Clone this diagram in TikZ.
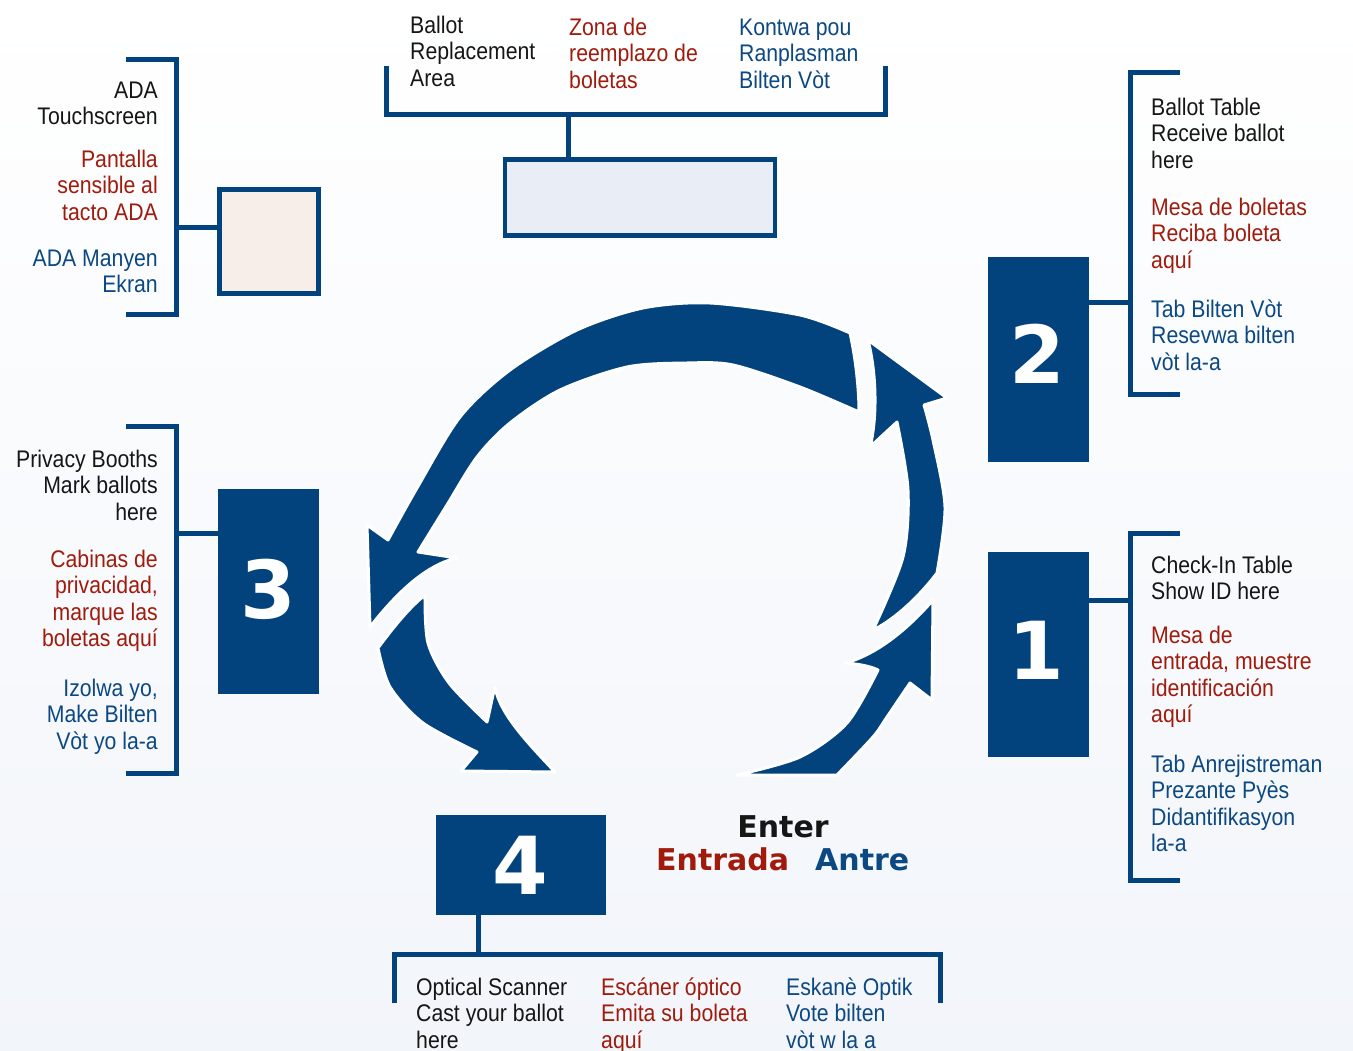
\documentclass[tikz,border=0pt]{standalone}
\usepackage{fontspec}
\setmainfont{Liberation Sans}[FakeStretch=0.885]
\newfontfamily\numfont{DejaVu Sans}
\definecolor{navy}{RGB}{3,67,125}
\definecolor{tred}{RGB}{160,27,12}
\definecolor{tblue}{RGB}{12,72,130}
\definecolor{tblack}{RGB}{22,22,22}
\definecolor{pinkfill}{RGB}{247,237,233}
\definecolor{bluefill}{RGB}{233,237,245}
\definecolor{bgbot}{RGB}{242,245,250}
\begin{document}
\begin{tikzpicture}[x=1pt,y=-1pt,
  lbl/.style={font=\fontsize{24}{26.5}\selectfont, inner sep=0pt},
  lblL/.style={lbl, align=left, anchor=north west},
  lblR/.style={lbl, align=right, anchor=north east},
  cb/.style={text=tblack}, cr/.style={text=tred}, cu/.style={text=tblue},
  brk/.style={draw=navy, line width=5pt},
  numbox/.style={fill=navy, inner sep=0pt, minimum width=101pt, minimum height=205pt},
  num/.style={text=white, inner sep=0pt, font=\numfont\bfseries\fontsize{80}{80}\selectfont},
  arrowshape/.style={fill=navy, draw=white, line width=3pt, line join=round},
  hollow/.style={draw=navy, inner sep=0pt},
  enter/.style={font=\numfont\bfseries\fontsize{30}{30}\selectfont, inner sep=0pt},
]
\useasboundingbox (0,0) rectangle (1353,1051);
\shade[top color=white, bottom color=bgbot] (0,0) rectangle (1353,1051);

% ---------- cycle arrows ----------
\path[arrowshape] (378,648) .. controls (395,625) and (410,607) .. (425,595)
  -- plot[smooth] coordinates {(425,595) (428,643) (449,683) (487,722)}
  .. controls (490,710) and (492,698) .. (495,687)
  .. controls (500,715) and (530,745) .. (555,772)
  -- (461,771) -- (477,752)
  -- plot[smooth] coordinates {(477,752) (423,723) (390,687) (378,648)}
  -- cycle;
\path[arrowshape] (850,333) .. controls (856,360) and (859,390) .. (859,412)
  -- plot[smooth] coordinates {(859,412) (800,387) (733,365) (687,363) (627,367) (560,390) (510,423) (477,457) (447,505) (418,552)}
  -- (457,558)
  .. controls (425,565) and (395,595) .. (370,627)
  -- (367,525) -- (388,540)
  -- plot[smooth] coordinates {(388,540) (417,488) (460,417) (510,370) (577,330) (643,308) (710,303) (800,315) (850,333)}
  -- cycle;
\path[arrowshape] (873,630) .. controls (890,622) and (915,602) .. (937,573)
  -- plot[smooth] coordinates {(937,573) (945,507) (933,440) (924,405)}
  -- (947,398) -- (868,340)
  .. controls (877,375) and (877,420) .. (870,447)
  -- (897,422)
  -- plot[smooth] coordinates {(897,422) (908,490) (903,557) (873,630)}
  -- cycle;
\path[arrowshape] (737,775) -- (837,775)
  -- plot[smooth] coordinates {(837,775) (873,737) (887,717) (910,683)}
  -- (932,700) -- (933,600)
  .. controls (905,632) and (875,655) .. (845,663)
  .. controls (858,664) and (870,666) .. (878,670)
  -- plot[smooth] coordinates {(878,670) (847,723) (800,757) (737,775)}
  -- cycle;

% ---------- ADA touchscreen ----------
\node[hollow, line width=5pt, fill=pinkfill, minimum width=99pt, minimum height=104.5pt] (ada) at (269,241.75) {};
\draw[brk] (126,59.5) -- (176.5,59.5) -- (176.5,315) -- (126,315);
\coordinate (adaJ) at (176.5,228);
\draw[brk] (adaJ) -- (adaJ -| ada.west);
\node[lblR, cb] (adaT1) at (158,81.5) {ADA\\Touchscreen};
\node[lblR, cr] (adaT2) at (158,149.5) {Pantalla\\sensible al\\tacto ADA};
\node[lblR, cu] (adaT3) at (158,249.5) {ADA Manyen\\Ekran};

% ---------- Ballot replacement ----------
\node[hollow, line width=4.5pt, fill=bluefill, minimum width=270pt, minimum height=76pt] (rep) at (640,197.5) {};
\draw[brk] (386,66) -- (386,115) -- (885,115) -- (885,66);
\coordinate (repJ) at (568,115);
\draw[brk] (repJ) -- (repJ |- rep.north);
\node[lblL, cb] (repT1) at (410,15.5) {Ballot\\Replacement\\Area};
\node[lblL, cr] (repT2) at (569,17.5) {Zona de\\reemplazo de\\boletas};
\node[lblL, cu] (repT3) at (739,18.5) {Kontwa pou\\Ranplasman\\Bilten Vòt};

% ---------- Station 2 ----------
\node[numbox] (b2) at (1038.5,359.5) {};
\node[num] (n2) at (1037.5,354) {2};
\draw[brk] (1180,73) -- (1130,73) -- (1130,394) -- (1180,394);
\coordinate (b2J) at (1130,303);
\draw[brk] (b2.east |- b2J) -- (b2J);
\node[lblL, cb] (t2a) at (1151,97.5) {Ballot Table\\Receive ballot\\here};
\node[lblL, cr] (t2b) at (1151,197.5) {Mesa de boletas\\Reciba boleta\\aquí};
\node[lblL, cu] (t2c) at (1151,299.5) {Tab Bilten Vòt\\Resevwa bilten\\vòt la-a};

% ---------- Station 1 ----------
\node[numbox] (b1) at (1038.5,654.5) {};
\node[num] (n1) at (1036,650) {1};
\draw[brk] (1180,533) -- (1130,533) -- (1130,880) -- (1180,880);
\coordinate (b1J) at (1130,600);
\draw[brk] (b1.east |- b1J) -- (b1J);
\node[lblL, cb] (t1a) at (1151,555.5) {Check-In Table\\Show ID here};
\node[lblL, cr] (t1b) at (1151,625.5) {Mesa de\\entrada, muestre\\identificación\\aquí};
\node[lblL, cu] (t1c) at (1151,754.5) {Tab Anrejistreman\\Prezante Pyès\\Didantifikasyon\\la-a};

% ---------- Station 3 ----------
\node[numbox] (b3) at (268.5,591.5) {};
\node[num] (n3) at (268.5,589.5) {3};
\draw[brk] (126,426) -- (176,426) -- (176,773) -- (126,773);
\coordinate (b3J) at (176,533);
\draw[brk] (b3J) -- (b3J -| b3.west);
\node[lblR, cb] (t3a) at (158,449.5) {Privacy Booths\\Mark ballots\\here};
\node[lblR, cr] (t3b) at (158,549.5) {Cabinas de\\privacidad,\\marque las\\boletas aquí};
\node[lblR, cu] (t3c) at (158,678.5) {Izolwa yo,\\Make Bilten\\Vòt yo la-a};

% ---------- Station 4 ----------
\node[numbox, minimum width=170pt, minimum height=100pt] (b4) at (521,865) {};
\node[num] (n4) at (520,865.5) {4};
\draw[brk] (394,1003) -- (394,954) -- (940,954) -- (940,1003);
\coordinate (b4J) at (478,954);
\draw[brk] (b4J |- b4.south) -- (b4J);
\node[lblL, cb] (t4a) at (416,977.5) {Optical Scanner\\Cast your ballot\\here};
\node[lblL, cr] (t4b) at (601,977.5) {Escáner óptico\\Emita su boleta\\aquí};
\node[lblL, cu] (t4c) at (786,977.5) {Eskanè Optik\\Vote bilten\\vòt w la a};

% ---------- Enter ----------
\node[enter, text=tblack, anchor=base] (en1) at (783,837) {Enter};
\node[enter, text=tred, anchor=base west] (en2) at (656,870) {Entrada};
\node[enter, text=tblue, anchor=base west] (en3) at (815,870) {Antre};
\end{tikzpicture}
\end{document}
